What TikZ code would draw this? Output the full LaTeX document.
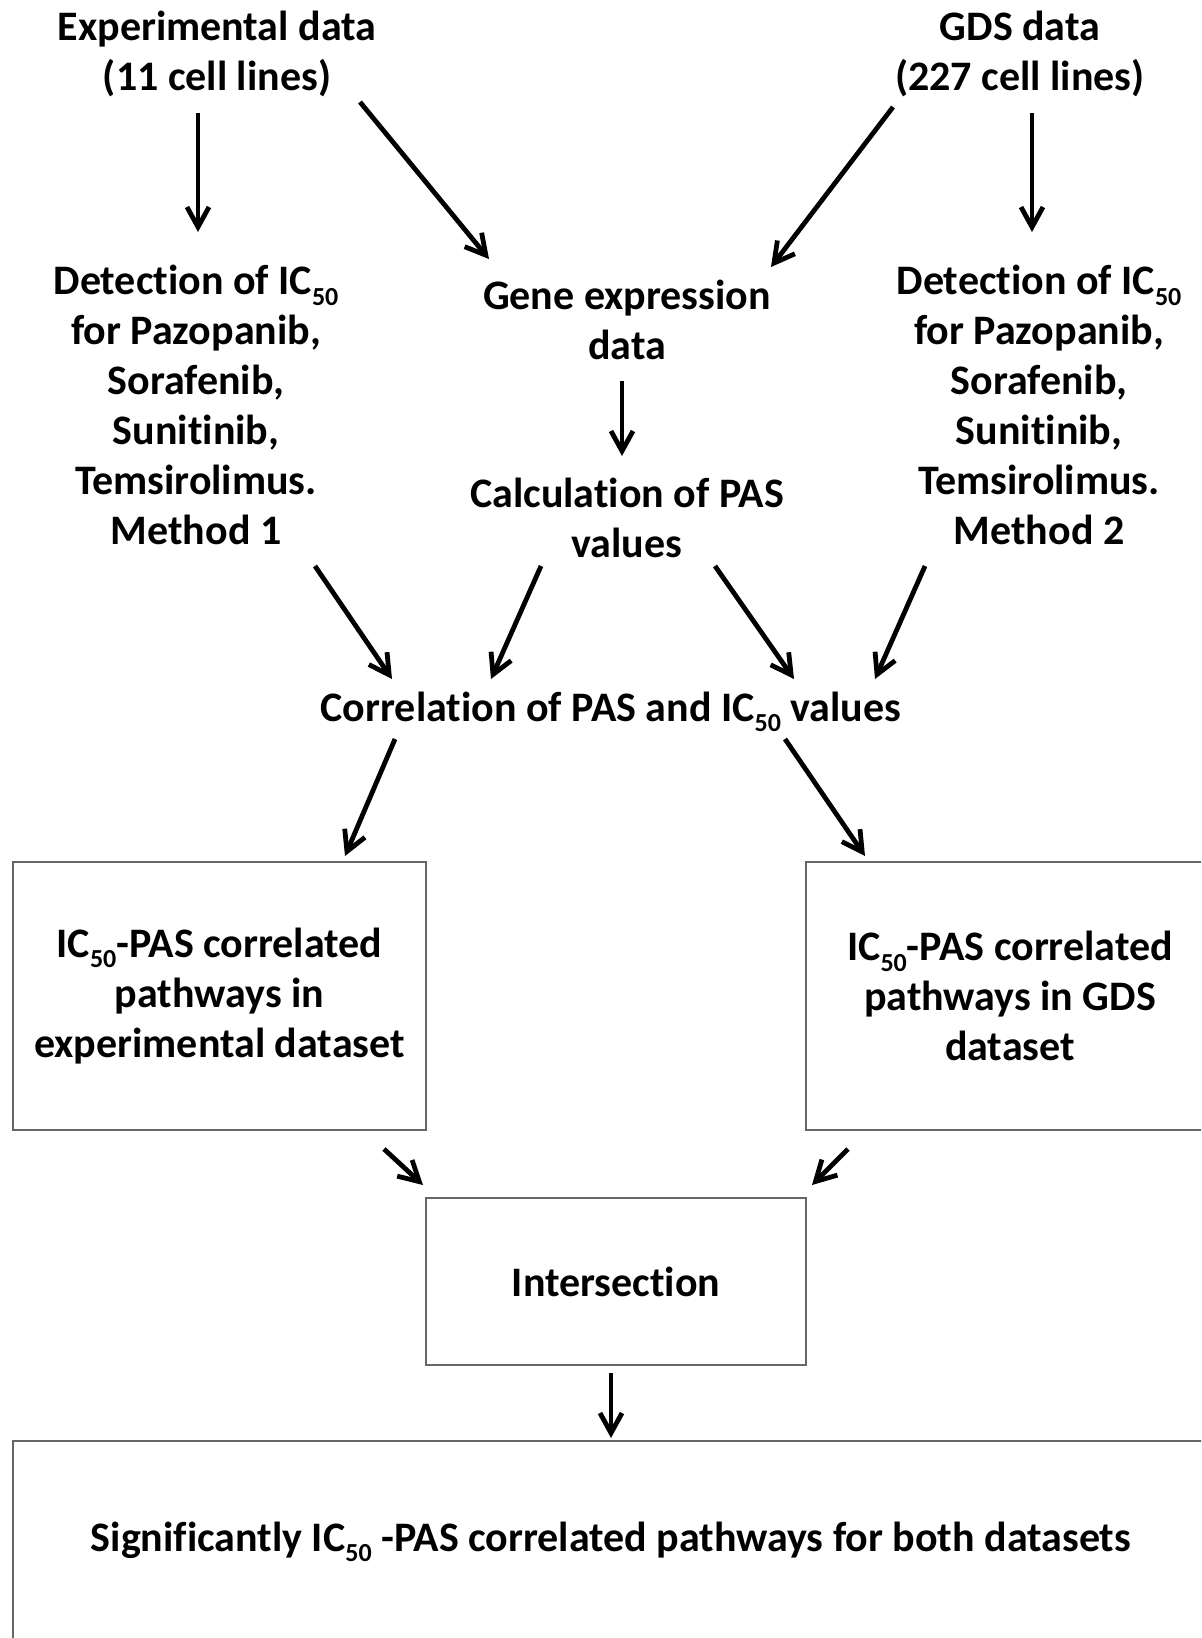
\documentclass[tikz,border=0pt]{standalone}
\usepackage{fontspec}
\setmainfont[Ligatures=NoCommon]{Carlito}
\usetikzlibrary{arrows.meta}
\newcommand\ICs{IC\raisebox{-0.25em}{\fontsize{13}{13}\selectfont 50}}
\begin{document}
\begin{tikzpicture}[x=0.5pt,y=-0.5pt,
  txt/.style={align=center,font=\fontsize{21}{25}\selectfont\bfseries,inner sep=0pt},
  arr/.style={line width=2.4pt,-{Straight Barb[length=10pt,width=11pt,line width=2.4pt]}},
  box/.style={draw=black!60,line width=1.2pt,txt}]
\useasboundingbox (0,0) rectangle (1201,1638);
\clip (0,0) rectangle (1201,1638);
\fill[white] (0,0) rectangle (1201,1638);

\node[txt] (exp) at (217,54) {Experimental data\\(11 cell lines)};
\node[txt] (gds) at (1020,54) {GDS data\\(227 cell lines)};
\node[txt] (det1) at (196,405) {Detection of \ICs\\for Pazopanib,\\Sorafenib,\\Sunitinib,\\Temsirolimus.\\Method 1};
\node[txt] (det2) at (1039,405) {Detection of \ICs\\for Pazopanib,\\Sorafenib,\\Sunitinib,\\Temsirolimus.\\Method 2};
\node[txt] (gene) at (627,320) {Gene expression\\data};
\node[txt] (calc) at (627,518) {Calculation of PAS\\values};
\node[txt] (corr) at (611,712) {Correlation of PAS and \ICs{} values};

\node[box,minimum width=206.5pt,minimum height=134pt] (b1) at (219.5,996) {\ICs-PAS correlated\\pathways in\\experimental dataset};
\node[box,minimum width=204pt,minimum height=134pt] (b2) at (1010,996) {\ICs-PAS correlated\\pathways in GDS\\dataset};
\node[box,minimum width=190pt,minimum height=83.5pt] (inter) at (616,1281.5) {Intersection};
\node[box,minimum width=598pt,minimum height=101pt] (fin) at (611,1542) {Significantly \ICs{} -PAS correlated pathways for both datasets};

% arrow end points
\coordinate (e1a) at (198,113);  \coordinate (e1b) at (198,232);
\coordinate (e2a) at (360,102);  \coordinate (e2b) at (489,259);
\coordinate (g1a) at (893,107);  \coordinate (g1b) at (771,267);
\coordinate (g2a) at (1032,113); \coordinate (g2b) at (1032,232);
\coordinate (ga) at (622,381);   \coordinate (gb) at (622,456);
\coordinate (d1a) at (315,566);  \coordinate (d1b) at (392,679);
\coordinate (c1a) at (541,566);  \coordinate (c1b) at (491,679);
\coordinate (c2a) at (715,566);  \coordinate (c2b) at (794,679);
\coordinate (d2a) at (925,566);  \coordinate (d2b) at (875,679);
\coordinate (r1a) at (395,739);  \coordinate (r1b) at (345,856);
\coordinate (r2a) at (785,739);  \coordinate (r2b) at (865,856);
\coordinate (b1a) at (384,1149); \coordinate (b1b) at (423,1185);
\coordinate (b2a) at (848,1149); \coordinate (b2b) at (812,1185);
\coordinate (ia) at (611,1373);  \coordinate (ib) at (611,1438);

\draw[arr] (e1a) -- (e1b);
\draw[arr] (e2a) -- (e2b);
\draw[arr] (g1a) -- (g1b);
\draw[arr] (g2a) -- (g2b);
\draw[arr] (ga) -- (gb);
\draw[arr] (d1a) -- (d1b);
\draw[arr] (c1a) -- (c1b);
\draw[arr] (c2a) -- (c2b);
\draw[arr] (d2a) -- (d2b);
\draw[arr] (r1a) -- (r1b);
\draw[arr] (r2a) -- (r2b);
\draw[arr] (b1a) -- (b1b);
\draw[arr] (b2a) -- (b2b);
\draw[arr] (ia) -- (ib);
\end{tikzpicture}
\end{document}
